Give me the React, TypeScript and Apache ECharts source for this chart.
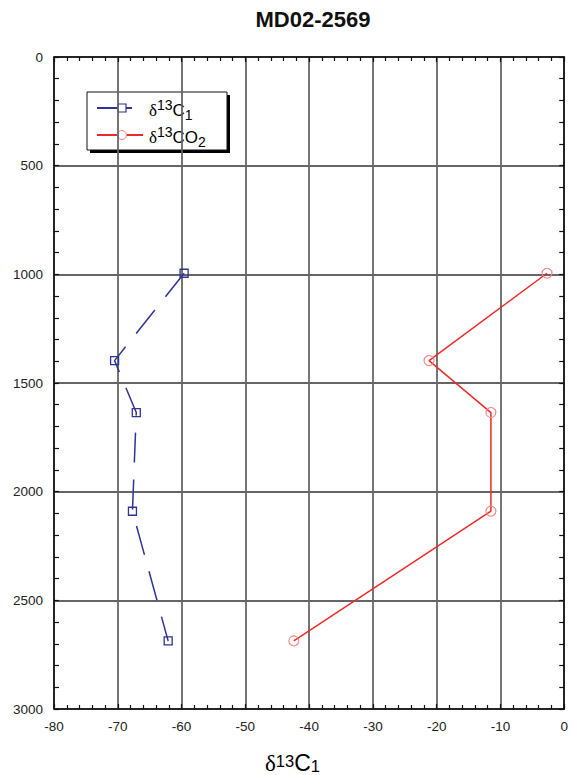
import React, { useEffect, useRef } from "react";
import * as echarts from "echarts";

// Core MD02-2569: carbon isotope composition of methane (C1) and CO2 versus depth
const depths = [995, 1397, 1636, 2090, 2687];
const d13C1 = [-59.6, -70.5, -67.1, -67.7, -62.1];
const d13CO2 = [-2.7, -21.2, -11.5, -11.5, -42.4];

const xMin = -80;
const xMax = 0;
const xStep = 10;
const yMin = 0;
const yMax = 3000;
const yStep = 500;

const BLUE = "#2e3592";
const RED = "#ec2a2a";
const RED_MARK = "#f08282";
const FONT = "'Liberation Sans', Arial, Helvetica, sans-serif";
const GREEK = "'Liberation Serif', 'Times New Roman', serif";

const toPairs = (xs: number[], ys: number[]) => xs.map((x, i) => [x, ys[i]]);

// rich-text styles for "δ¹³X₁"-style labels; line heights place the super/subscripts
function isoLabelRich(
  size: number,
  small: number,
  color: string,
  lineH: number,
  supH: number,
  subH: number
) {
  return {
    d: { fontFamily: GREEK, fontSize: size, lineHeight: lineH, color, verticalAlign: "middle" },
    b: { fontFamily: FONT, fontSize: size, lineHeight: lineH, color, verticalAlign: "middle" },
    sup: { fontFamily: FONT, fontSize: small, lineHeight: supH, color, verticalAlign: "top" },
    sub: { fontFamily: FONT, fontSize: small, lineHeight: subH, color, verticalAlign: "bottom" },
  };
}

export default function App() {
  const ref = useRef<HTMLDivElement>(null);

  useEffect(() => {
    if (!ref.current) return;
    const chart = echarts.init(ref.current, undefined, { renderer: "svg" });

    const frame = { show: true, onZero: false, lineStyle: { color: "#111", width: 1.6 } };
    const baseX = {
      type: "value",
      min: xMin,
      max: xMax,
      interval: xStep,
      axisLine: frame,
      axisTick: { show: true, inside: true, length: 5, lineStyle: { color: "#111", width: 1.2 } },
      minorTick: { show: true, splitNumber: 5, length: 4, lineStyle: { color: "#111", width: 1.2 } },
    };
    const baseY = {
      type: "value",
      inverse: true,
      min: yMin,
      max: yMax,
      interval: yStep,
      axisLine: frame,
      axisTick: { show: true, inside: true, length: 5, lineStyle: { color: "#111", width: 1.2 } },
      minorTick: { show: true, splitNumber: 5, length: 5, lineStyle: { color: "#111", width: 1.2 } },
    };

    chart.setOption({
      animation: false,
      backgroundColor: "#fff",
      grid: { left: 54, right: 5, top: 57, bottom: 66, containLabel: false },
      xAxis: [
        {
          ...baseX,
          position: "bottom",
          axisLabel: {
            fontFamily: FONT,
            fontSize: 13.5,
            color: "#222",
            margin: 10,
            formatter: (v: number) => String(v),
          },
          splitLine: { show: true, lineStyle: { color: "#666", width: 1.8 } },
        },
        {
          ...baseX,
          position: "top",
          axisLabel: { show: false },
          splitLine: { show: false },
        },
      ],
      yAxis: [
        {
          ...baseY,
          position: "left",
          axisLabel: {
            fontFamily: FONT,
            fontSize: 13.5,
            color: "#222",
            margin: 11,
            formatter: (v: number) => String(v),
          },
          splitLine: { show: true, lineStyle: { color: "#333", width: 1.5 } },
        },
        {
          ...baseY,
          position: "right",
          axisLabel: { show: false },
          splitLine: { show: false },
        },
      ],
      series: [
        {
          name: "δ13C1",
          type: "line",
          xAxisIndex: 0,
          yAxisIndex: 0,
          data: toPairs(d13C1, depths),
          symbol: "rect",
          symbolSize: 8,
          itemStyle: { color: "rgba(255,255,255,0)", borderColor: BLUE, borderWidth: 1.3 },
          lineStyle: { color: BLUE, width: 1.5, type: [30, 17] },
          z: 3,
        },
        {
          name: "δ13CO2",
          type: "line",
          xAxisIndex: 0,
          yAxisIndex: 0,
          data: toPairs(d13CO2, depths),
          symbol: "circle",
          symbolSize: 10,
          itemStyle: { color: "rgba(255,255,255,0)", borderColor: RED_MARK, borderWidth: 1.1 },
          lineStyle: { color: RED, width: 1.5 },
          z: 3,
        },
      ],
      graphic: [
        // title
        {
          type: "text",
          x: 313,
          y: 19,
          style: {
            text: "MD02-2569",
            fontFamily: FONT,
            fontSize: 22,
            fontWeight: "bold",
            fill: "#111",
            align: "center",
            verticalAlign: "middle",
          },
        },
        // x axis name
        {
          type: "text",
          x: 265,
          y: 763,
          style: {
            text: "{d|δ}{sup|13}{b|C}{sub|1}",
            align: "left",
            verticalAlign: "middle",
            rich: isoLabelRich(23, 16.5, "#111", 22, 12.4, 15.2),
          },
        },
        // legend box with drop shadow
        {
          type: "group",
          z: 100,
          children: [
            { type: "rect", shape: { x: 90, y: 95, width: 140, height: 58 }, style: { fill: "#000" } },
            {
              type: "rect",
              shape: { x: 87, y: 92, width: 140, height: 58 },
              style: { fill: "#fff", stroke: "#111", lineWidth: 1 },
            },
            { type: "line", shape: { x1: 97, y1: 108, x2: 132, y2: 108 }, style: { stroke: BLUE, lineWidth: 2 } },
            {
              type: "rect",
              shape: { x: 118, y: 104, width: 8, height: 8 },
              style: { fill: "#fff", stroke: BLUE, lineWidth: 1.2 },
            },
            {
              type: "text",
              x: 149,
              y: 110,
              style: {
                text: "{d|δ}{sup|13}{b|C}{sub|1}",
                align: "left",
                verticalAlign: "middle",
                rich: isoLabelRich(17, 14, BLUE, 24, 13.5, 19.5),
              },
            },
            { type: "line", shape: { x1: 97, y1: 135, x2: 143, y2: 135 }, style: { stroke: RED, lineWidth: 2 } },
            {
              type: "circle",
              shape: { cx: 122, cy: 135, r: 4.5 },
              style: { fill: "#fff", stroke: RED_MARK, lineWidth: 1 },
            },
            {
              type: "text",
              x: 149,
              y: 137,
              style: {
                text: "{d|δ}{sup|13}{b|CO}{sub|2}",
                align: "left",
                verticalAlign: "middle",
                rich: isoLabelRich(17, 14, RED, 24, 13.5, 19.5),
              },
            },
          ],
        },
      ],
    });

    return () => chart.dispose();
  }, []);

  return (
    <div
      ref={ref}
      style={{ position: "fixed", left: 0, top: 0, width: 571, height: 775, background: "#fff" }}
    />
  );
}
